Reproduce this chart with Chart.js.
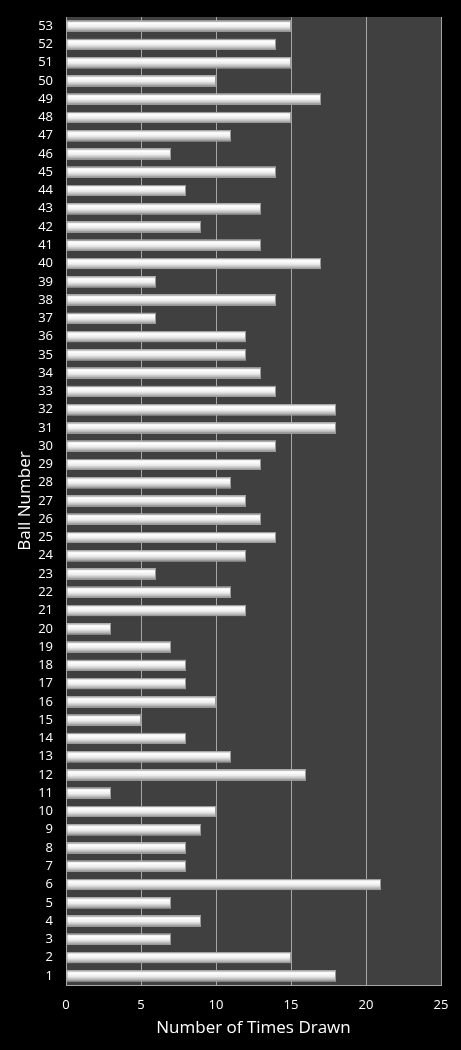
<!DOCTYPE html>
<html>
<head>
<meta charset="utf-8">
<script src="https://cdn.jsdelivr.net/npm/chart.js@4/dist/chart.umd.min.js"></script>
<style>
  html, body { margin: 0; padding: 0; background: #000; }
  #wrap { width: 461px; height: 1050px; }
</style>
</head>
<body>
<div id="wrap"><canvas id="ballChart"></canvas></div>
<script>
// ball numbers 1..53 and how often each one came out
const balls = ['1','2','3','4','5','6','7','8','9','10','11','12','13','14','15','16','17','18','19','20',
  '21','22','23','24','25','26','27','28','29','30','31','32','33','34','35','36','37','38','39','40',
  '41','42','43','44','45','46','47','48','49','50','51','52','53'];
const timesDrawn = [18, 15, 7, 9, 7, 21, 8, 8, 9, 10, 3, 16, 11, 8, 5, 10, 8, 8, 7, 3,
  12, 11, 6, 12, 14, 13, 12, 11, 13, 14, 18, 18, 14, 13, 12, 12, 6, 14, 6, 17,
  13, 9, 13, 8, 14, 7, 11, 15, 17, 10, 15, 14, 15];
const xTicks = [0, 5, 10, 15, 20, 25];

const fontFam = '"Open Sans", "DejaVu Sans", sans-serif';

// dark plot area behind the bars
const plotBg = {
    id: 'plotBg',
    beforeDraw: function(chart) {
        const a = chart.chartArea;
        const c = chart.ctx;
        c.save();
        c.fillStyle = '#404040';
        c.fillRect(a.left, a.top, a.right - a.left, a.bottom - a.top);
        c.restore();
    }
};

// shade each bar so it looks like a rounded tube
const tubeShade = {
    id: 'tubeShade',
    afterDatasetsDraw: function(chart) {
        const c = chart.ctx;
        chart.getDatasetMeta(0).data.forEach(function(bar) {
            const top = bar.y - bar.height / 2;
            const bottom = bar.y + bar.height / 2;
            const g = c.createLinearGradient(0, top, 0, bottom);
            g.addColorStop(0, '#d8d8d8');
            g.addColorStop(0.25, '#ffffff');
            g.addColorStop(0.55, '#ececec');
            g.addColorStop(0.85, '#b4b4b4');
            g.addColorStop(1, '#8a8a8a');
            c.save();
            c.fillStyle = g;
            c.fillRect(bar.base, top, bar.x - bar.base, bar.height);
            c.strokeStyle = '#9a9a9a';
            c.lineWidth = 1;
            c.strokeRect(bar.base + 0.5, top + 0.5, bar.x - bar.base - 1, bar.height - 1);
            c.restore();
        });
    }
};

const ctx = document.getElementById('ballChart').getContext('2d');
const ballChart = new Chart(ctx, {
    type: 'bar',
    data: {
        labels: balls,
        datasets: [{
            label: 'Number of Times Drawn',
            data: timesDrawn,
            backgroundColor: '#eeeeee',
            borderWidth: 0,
            barPercentage: 0.6,
            categoryPercentage: 1.0
        }]
    },
    options: {
        indexAxis: 'y',
        responsive: true,
        maintainAspectRatio: false,
        animation: false,
        layout: { padding: { top: 17, right: 20, left: 0, bottom: 12 } },
        plugins: {
            legend: { display: false },
            tooltip: { enabled: false }
        },
        scales: {
            x: {
                min: 0,
                max: 25,
                afterBuildTicks: function(scale) {
                    scale.ticks = xTicks.map(function(v) { return { value: v }; });
                },
                afterFit: function(scale) {
                    scale.height = 53;
                    scale.paddingLeft = 0;
                    scale.paddingRight = 0;
                },
                grid: { color: '#a6a6a6', lineWidth: 1, drawTicks: false },
                border: { display: true, color: '#a6a6a6' },
                ticks: { color: '#ffffff', padding: 12, font: { family: fontFam, size: 13 } },
                title: {
                    display: true,
                    text: 'Number of Times Drawn',
                    color: '#ffffff',
                    padding: { top: 2, bottom: 0 },
                    font: { family: fontFam, size: 17 }
                }
            },
            y: {
                reverse: true,
                afterFit: function(scale) {
                    scale.width = 66;
                    scale.paddingTop = 0;
                    scale.paddingBottom = 0;
                },
                grid: { display: false, drawTicks: false },
                border: { display: false },
                ticks: { color: '#ffffff', padding: 13, autoSkip: false, font: { family: fontFam, size: 13 } },
                title: {
                    display: true,
                    text: 'Ball Number',
                    color: '#ffffff',
                    padding: { top: 15, bottom: 0 },
                    font: { family: fontFam, size: 17 }
                }
            }
        }
    },
    plugins: [plotBg, tubeShade]
});
</script>
</body>
</html>
